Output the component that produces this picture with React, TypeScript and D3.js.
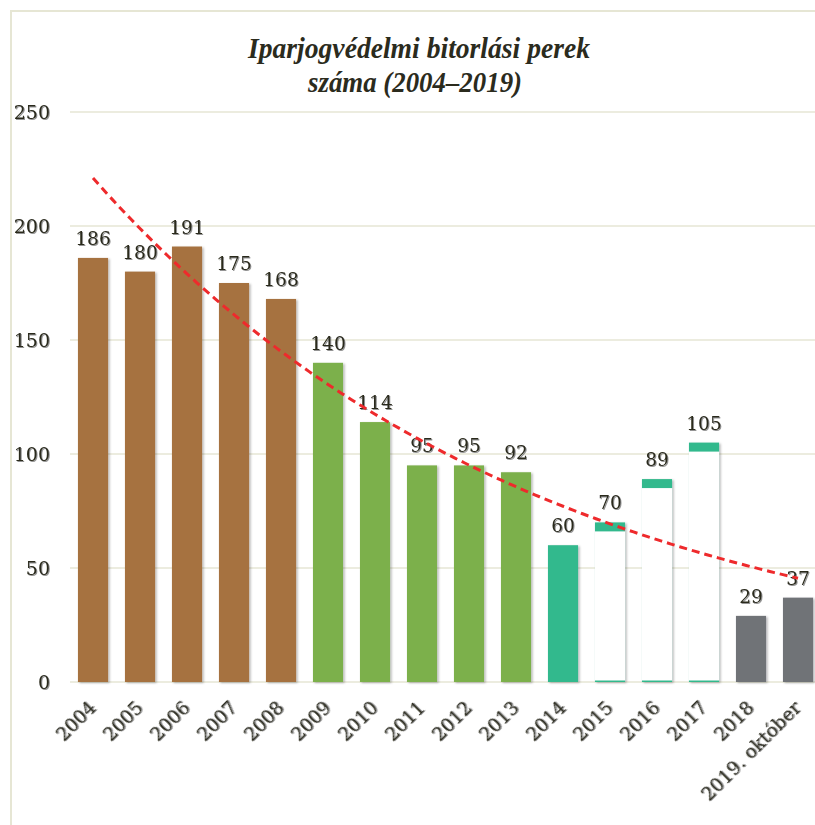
import React from "react";
import * as d3 from "d3";

// adatok
const years = [
  "2004", "2005", "2006", "2007", "2008", "2009", "2010", "2011",
  "2012", "2013", "2014", "2015", "2016", "2017", "2018", "2019. október",
];
const cases = [186, 180, 191, 175, 168, 140, 114, 95, 95, 92, 60, 70, 89, 105, 29, 37];
// melyik színcsoportba tartozik az oszlop
const groups = ["a", "a", "a", "a", "a", "b", "b", "b", "b", "b", "c", "d", "d", "d", "e", "e"];
const yTicks = [0, 50, 100, 150, 200, 250];
const titleLines = ["Iparjogvédelmi bitorlási perek", "száma (2004–2019)"];

const W = 815;
const H = 825;

const colors: Record<string, string> = {
  a: "#A6723F",
  b: "#7CB04B",
  c: "#33B98D",
  d: "#33B98D",
  e: "#6F7377",
};

const textColor = "#2b2b1d";
const gridColor = "#E6E6D4";

// exponenciális trendvonal (mint az Excelben): ln y = a + b*x
function expFit(vals: number[]) {
  const xs = vals.map((_, i) => i + 1);
  const ls = vals.map((v) => Math.log(v));
  const mx = d3.mean(xs)!;
  const ml = d3.mean(ls)!;
  const sxy = d3.sum(xs, (x, i) => (x - mx) * (ls[i] - ml));
  const sxx = d3.sum(xs, (x) => (x - mx) * (x - mx));
  const b = sxy / sxx;
  const a = ml - b * mx;
  return (x: number) => Math.exp(a + b * x);
}

export default function App() {
  const x = d3
    .scaleBand<string>()
    .domain(years)
    .range([69.5, 821.5])
    .paddingInner(0.36)
    .paddingOuter(0.18);
  const y = d3.scaleLinear().domain([0, 250]).range([682, 112]);

  const center = (c: string) => x(c)! + x.bandwidth() / 2;
  const ix = d3
    .scaleLinear()
    .domain([0, years.length - 1])
    .range([center(years[0]), center(years[years.length - 1])]);

  const trend = expFit(cases);
  const trendPts = d3.range(0, years.length - 1 + 0.001, 0.1).map((i) => [ix(i), y(trend(i + 1))] as [number, number]);
  const trendPath = d3.line()(trendPts) || "";

  return (
    <svg
      width={W}
      height={H}
      style={{ position: "absolute", left: 0, top: 0, background: "#fff" }}
    >
      <defs>
        <filter id="barShadow" x="-20%" y="-5%" width="150%" height="115%">
          <feDropShadow dx="1.5" dy="1" stdDeviation="0.9" floodColor="#000" floodOpacity="0.3" />
        </filter>
        <filter id="txtShadow" x="-10%" y="-20%" width="130%" height="150%">
          <feDropShadow dx="1" dy="1" stdDeviation="0.7" floodColor="#666" floodOpacity="0.7" />
        </filter>
      </defs>

      {/* keret */}
      <line x1={11} x2={W} y1={11} y2={11} stroke={gridColor} strokeWidth={2} />
      <line x1={11} x2={11} y1={10} y2={H} stroke={gridColor} strokeWidth={2} />

      {/* cím */}
      <g
        fontFamily="'Liberation Serif', serif"
        fontStyle="italic"
        fontWeight="bold"
        fontSize={30}
        fill={textColor}
        textAnchor="middle"
      >
        <text x={419} y={58} textLength={342} lengthAdjust="spacingAndGlyphs">
          {titleLines[0]}
        </text>
        <text x={415} y={92} textLength={214} lengthAdjust="spacingAndGlyphs">
          {titleLines[1]}
        </text>
      </g>

      {/* rácsvonalak + y tengely */}
      {yTicks.map((t) => (
        <g key={t}>
          <line x1={70} x2={W} y1={y(t)} y2={y(t)} stroke={gridColor} strokeWidth={1.5} />
          <text
            x={50}
            y={y(t)}
            dy="0.35em"
            textAnchor="end"
            fontFamily="'DejaVu Serif', serif"
            fontSize={19}
            fill={textColor}
            filter="url(#txtShadow)"
          >
            {t}
          </text>
        </g>
      ))}

      {/* oszlopok */}
      {years.map((c, i) => {
        const v = cases[i];
        const g = groups[i];
        const bx = x(c)!;
        const bw = x.bandwidth();
        const top = y(v);
        const h = y(0) - top;
        return (
          <g key={c} filter="url(#barShadow)">
            <rect x={bx} y={top} width={bw} height={h} fill={colors[g]} />
            {g === "d" && (
              <rect x={bx} y={top + 9} width={bw} height={h - 10.5} fill="#fff" />
            )}
          </g>
        );
      })}

      {/* értékcímkék */}
      {years.map((c, i) => (
        <text
          key={c}
          x={center(c)}
          y={y(cases[i]) - 13}
          textAnchor="middle"
          fontFamily="'DejaVu Serif', serif"
          fontSize={18.5}
          fill={textColor}
          filter="url(#txtShadow)"
        >
          {cases[i]}
        </text>
      ))}

      {/* trendvonal */}
      <path
        d={trendPath}
        fill="none"
        stroke="#EE2A2C"
        strokeWidth={3}
        strokeDasharray="8,5"
      />

      {/* x tengely feliratok */}
      {years.map((c) => (
        <text
          key={c}
          transform={`translate(${center(c) + 4},${709}) rotate(-45)`}
          textAnchor="end"
          fontFamily="'DejaVu Serif', serif"
          fontSize={18.5}
          fill={textColor}
          filter="url(#txtShadow)"
        >
          {c}
        </text>
      ))}
    </svg>
  );
}
